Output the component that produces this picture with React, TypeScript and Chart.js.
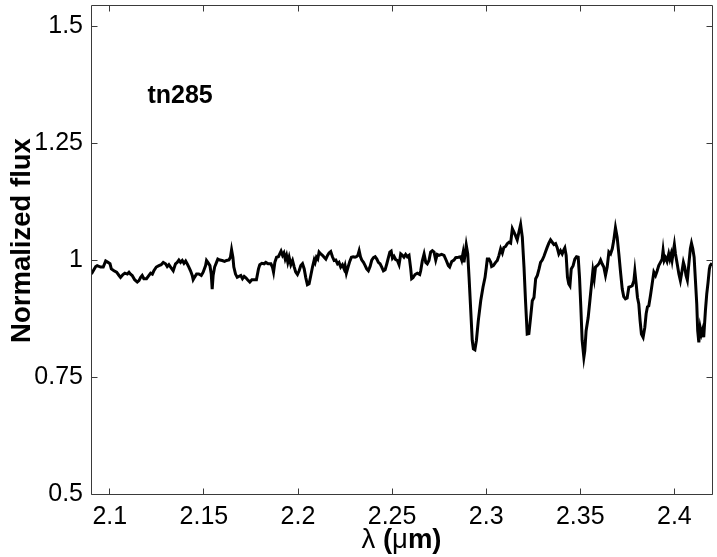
import { useEffect, useRef } from "react";
import { Chart, registerables } from "chart.js";

Chart.register(...registerables);

// ---- data ----
const X_MIN = 2.09;
const X_MAX = 2.42;
const Y_MIN = 0.5;
const Y_MAX = 1.545;
const X_TICKS = [2.1, 2.15, 2.2, 2.25, 2.3, 2.35, 2.4];
const Y_TICKS = [0.5, 0.75, 1, 1.25, 1.5];
const X_TITLE_PARTS: [string, boolean][] = [["λ", false], [" (", true], ["μ", false], ["m)", true]];
const Y_TITLE = "Normalized flux";
const STAR_LABEL = "tn285";
const STAR_LABEL_POS = [2.12, 1.35];

const WAVELENGTH = [
  2.0902, 2.0912, 2.0925, 2.0933, 2.0951, 2.0965, 2.0978, 2.0990, 2.1001, 2.1008,
  2.1022, 2.1036, 2.1049, 2.1057, 2.1070, 2.1080, 2.1093, 2.1102, 2.1110, 2.1119,
  2.1132, 2.1146, 2.1155, 2.1164, 2.1172, 2.1181, 2.1195, 2.1208, 2.1217, 2.1226,
  2.1234, 2.1247, 2.1261, 2.1273, 2.1284, 2.1296, 2.1305, 2.1314, 2.1323, 2.1337,
  2.1349, 2.1358, 2.1367, 2.1376, 2.1385, 2.1394, 2.1403, 2.1411, 2.1420, 2.1429,
  2.1438, 2.1443, 2.1450, 2.1461, 2.1473, 2.1486, 2.1496, 2.1509, 2.1514, 2.1521,
  2.1532, 2.1539, 2.1544, 2.1549, 2.1557, 2.1567, 2.1574, 2.1585, 2.1597, 2.1610,
  2.1620, 2.1633, 2.1641, 2.1647, 2.1654, 2.1659, 2.1668, 2.1677,
  2.1696, 2.1705, 2.1714, 2.1723, 2.1732, 2.1744, 2.1755, 2.1767, 2.1779, 2.1790,
  2.1797, 2.1808, 2.1820, 2.1829, 2.1841, 2.1856, 2.1864, 2.1870, 2.1877, 2.1886,
  2.1896, 2.1903, 2.1910, 2.1918, 2.1925, 2.1932, 2.1939, 2.1946, 2.1953, 2.1962,
  2.1971, 2.1980, 2.1988, 2.1997, 2.2006, 2.2015, 2.2024, 2.2033, 2.2041, 2.2050,
  2.2059, 2.2068, 2.2077, 2.2086, 2.2091, 2.2098, 2.2105, 2.2112, 2.2121, 2.2130,
  2.2139, 2.2148, 2.2157, 2.2165, 2.2174, 2.2183, 2.2192, 2.2201, 2.2210, 2.2218,
  2.2227, 2.2236, 2.2245, 2.2250, 2.2257, 2.2266, 2.2275, 2.2284, 2.2293, 2.2303,
  2.2310, 2.2318, 2.2325, 2.2332, 2.2339, 2.2348, 2.2357, 2.2365, 2.2374, 2.2383,
  2.2392, 2.2401, 2.2410, 2.2419, 2.2427, 2.2436, 2.2445, 2.2454, 2.2463, 2.2472,
  2.2481, 2.2488, 2.2495,
  2.2502, 2.2510, 2.2519, 2.2528, 2.2537, 2.2546, 2.2555, 2.2563, 2.2572, 2.2581,
  2.2590, 2.2599, 2.2604, 2.2611, 2.2622, 2.2634, 2.2647, 2.2652, 2.2661, 2.2670,
  2.2679, 2.2687, 2.2696, 2.2705, 2.2714, 2.2723, 2.2732, 2.2740, 2.2749, 2.2763,
  2.2776, 2.2788, 2.2799, 2.2806, 2.2817, 2.2829, 2.2838, 2.2852, 2.2864, 2.2870,
  2.2877, 2.2882, 2.2887, 2.2894, 2.2902, 2.2909, 2.2918, 2.2926, 2.2932, 2.2940,
  2.2948, 2.2958, 2.2971, 2.2983, 2.2994, 2.3001, 2.3006, 2.3015, 2.3024, 2.3029,
  2.3038, 2.3050, 2.3059, 2.3068, 2.3077, 2.3086, 2.3094, 2.3103, 2.3112, 2.3121,
  2.3130, 2.3139, 2.3147, 2.3156, 2.3165, 2.3174, 2.3183, 2.3192, 2.3201, 2.3209,
  2.3218, 2.3227, 2.3236, 2.3245, 2.3254, 2.3263, 2.3272, 2.3281, 2.3289,
  2.3298, 2.3307, 2.3316, 2.3324, 2.3333, 2.3342, 2.3351, 2.3360, 2.3369, 2.3377,
  2.3386, 2.3395, 2.3404, 2.3413, 2.3418, 2.3425, 2.3432, 2.3439, 2.3445, 2.3452,
  2.3462, 2.3471, 2.3480, 2.3489, 2.3496, 2.3503, 2.3510, 2.3519, 2.3524, 2.3531,
  2.3542, 2.3551, 2.3560, 2.3567, 2.3574, 2.3581, 2.3590, 2.3599, 2.3608, 2.3616,
  2.3625, 2.3634, 2.3643, 2.3652, 2.3661, 2.3670, 2.3678, 2.3687, 2.3696, 2.3705,
  2.3714, 2.3723, 2.3731, 2.3740, 2.3749, 2.3758, 2.3767, 2.3776, 2.3785, 2.3790,
  2.3797, 2.3804, 2.3811, 2.3818, 2.3825, 2.3834, 2.3843, 2.3850, 2.3857, 2.3864,
  2.3873, 2.3882, 2.3891, 2.3900, 2.3908, 2.3917, 2.3926, 2.3935, 2.3940, 2.3946,
  2.3953, 2.3961, 2.3970, 2.3976, 2.3983, 2.3988, 2.3995, 2.4000, 2.4006, 2.4015,
  2.4024, 2.4032, 2.4041, 2.4048, 2.4055, 2.4062, 2.4069, 2.4077, 2.4085, 2.4091,
  2.4098, 2.4105, 2.4112, 2.4119, 2.4124, 2.4130, 2.4137, 2.4144, 2.4151, 2.4156,
  2.4165, 2.4172, 2.4179, 2.4186, 2.4190, 2.4200,
];

const FLUX = [
  0.970, 0.977, 0.986, 0.988, 0.985, 0.985, 0.998, 0.995, 0.992, 0.981,
  0.977, 0.974, 0.967, 0.963, 0.969, 0.972, 0.970, 0.974, 0.970, 0.967,
  0.958, 0.953, 0.956, 0.963, 0.967, 0.960, 0.960, 0.967, 0.972, 0.970,
  0.977, 0.985, 0.988, 0.990, 0.995, 0.992, 0.986, 0.990, 0.985, 0.977,
  0.992, 0.995, 1.000, 0.995, 0.999, 0.993, 0.998, 0.992, 0.985, 0.977,
  0.967, 0.958, 0.963, 0.970, 0.970, 0.967, 0.974, 0.988, 0.999, 0.995,
  0.988, 0.970, 0.938, 0.967, 0.985, 0.995, 1.002, 1.000, 0.999, 0.997,
  0.999, 1.000, 1.006, 1.022, 1.006, 0.985, 0.970, 0.963,
  0.967, 0.960, 0.965, 0.962, 0.958, 0.953, 0.958, 0.958, 0.958, 0.981,
  0.990, 0.993, 0.992, 0.995, 0.992, 0.992, 0.985, 0.974, 0.995, 1.006,
  1.007, 1.013, 1.019, 1.010, 1.015, 1.002, 1.010, 0.995, 1.006, 0.990,
  0.999, 0.985, 0.974, 0.969, 0.977, 0.988, 0.992, 0.981, 0.963, 0.947,
  0.949, 0.967, 0.985, 1.000, 0.995, 1.006, 1.002, 1.017, 1.013, 1.010,
  1.006, 1.002, 1.010, 1.015, 1.018, 1.007, 0.999, 1.000, 0.992, 0.995,
  0.985, 0.990, 0.981, 0.988, 0.972, 0.985, 0.997, 1.006, 1.007, 1.006,
  1.007, 1.010, 1.020, 1.007, 1.000, 0.995, 0.988, 0.981, 0.977, 0.986,
  1.000, 1.005, 1.007, 1.002, 0.995, 0.992, 0.985, 0.977, 0.979, 0.992,
  1.006, 1.017, 1.019,
  1.004, 1.008, 1.001, 0.999, 0.990, 1.013, 1.010, 1.006, 1.012, 1.007,
  1.010, 0.981, 0.960, 0.962, 0.969, 0.972, 0.969, 0.977, 0.999, 1.013,
  0.995, 0.992, 0.999, 1.017, 1.020, 1.017, 1.000, 1.012, 1.010, 1.012,
  1.010, 0.999, 0.988, 0.985, 0.997, 1.000, 1.005, 1.006, 1.007, 1.000,
  1.015, 0.995, 1.010, 1.032, 1.013, 0.963, 0.892, 0.828, 0.810, 0.808,
  0.828, 0.870, 0.913, 0.942, 0.963, 0.985, 1.002, 1.002, 0.995, 0.986,
  0.988, 0.995, 0.999, 1.010, 1.024, 1.015, 1.027, 1.029, 1.035, 1.038,
  1.036, 1.067, 1.060, 1.052, 1.043, 1.060, 1.076, 1.049, 0.985, 0.913,
  0.842, 0.843, 0.877, 0.913, 0.920, 0.960, 0.967, 0.981, 0.995,
  1.000, 1.008, 1.018, 1.027, 1.036, 1.043, 1.038, 1.033, 1.035, 1.027,
  1.013, 1.020, 1.013, 1.022, 1.026, 1.010, 0.963, 0.949, 0.945, 0.981,
  0.988, 1.002, 1.007, 1.006, 0.963, 0.899, 0.828, 0.792, 0.806, 0.849,
  0.877, 0.913, 0.949, 0.977, 0.960, 0.985, 0.988, 0.992, 1.000, 0.992,
  0.985, 0.967, 0.985, 1.017, 1.013, 1.024, 1.042, 1.069, 1.049, 1.013,
  0.974, 0.938, 0.922, 0.917, 0.919, 0.942, 0.943, 0.945, 0.956, 0.976,
  0.949, 0.920, 0.906, 0.870, 0.842, 0.835, 0.856, 0.885, 0.900, 0.902,
  0.924, 0.949, 0.974, 0.967, 0.976, 0.988, 0.995, 1.002, 1.020, 0.999,
  1.005, 0.997, 1.013, 1.002, 1.013, 1.000, 1.020, 1.033, 1.013, 0.992,
  0.970, 0.956, 0.977, 0.995, 0.985, 0.967, 0.957, 0.992, 1.024, 1.036,
  1.024, 1.006, 0.956, 0.906, 0.849, 0.824, 0.856, 0.842, 0.852, 0.835,
  0.892, 0.927, 0.952, 0.981, 0.988, 0.993,
];

const FONT = "'Liberation Sans', Arial, Helvetica, sans-serif";
const TICK_SIZE = 25;
const LABEL_SIZE = 27.5;

const decorPlugin = {
  id: "matlabDecor",
  afterDraw(chart: any) {
    const { ctx, chartArea } = chart;
    const xs = chart.scales.x;
    const ys = chart.scales.y;
    const L = Math.floor(chartArea.left) + 0.5;
    const R = Math.floor(chartArea.right) + 0.5;
    const T = Math.floor(chartArea.top) + 0.5;
    const B = Math.floor(chartArea.bottom) + 0.5;
    ctx.save();
    ctx.strokeStyle = "#3a3a3a";
    ctx.lineWidth = 1;
    ctx.beginPath();
    ctx.rect(L, T, R - L, B - T);
    const tl = 6;
    for (const v of X_TICKS) {
      const px = Math.floor(xs.getPixelForValue(v)) + 0.5;
      ctx.moveTo(px, B);
      ctx.lineTo(px, B - tl);
      ctx.moveTo(px, T);
      ctx.lineTo(px, T + tl);
    }
    for (const v of Y_TICKS) {
      const py = Math.floor(ys.getPixelForValue(v)) + 0.5;
      ctx.moveTo(L, py);
      ctx.lineTo(L + tl, py);
      ctx.moveTo(R, py);
      ctx.lineTo(R - tl, py);
    }
    ctx.stroke();

    // star label
    ctx.fillStyle = "#000";
    ctx.font = `bold ${TICK_SIZE}px ${FONT}`;
    ctx.textAlign = "left";
    ctx.textBaseline = "middle";
    ctx.fillText(
      STAR_LABEL,
      xs.getPixelForValue(STAR_LABEL_POS[0]),
      ys.getPixelForValue(STAR_LABEL_POS[1])
    );

    // x title with mixed weights
    const parts = X_TITLE_PARTS.map(([t, b]) => {
      ctx.font = `${b ? "bold " : ""}${LABEL_SIZE}px ${FONT}`;
      return { t, b, w: ctx.measureText(t).width };
    });
    const total = parts.reduce((s, p) => s + p.w, 0);
    let cx = (chartArea.left + chartArea.right) / 2 - total / 2;
    ctx.textBaseline = "alphabetic";
    for (const p of parts) {
      ctx.font = `${p.b ? "bold " : ""}${LABEL_SIZE}px ${FONT}`;
      ctx.fillText(p.t, cx, 548);
      cx += p.w;
    }

    // y title
    ctx.save();
    ctx.translate(22, (chartArea.top + chartArea.bottom) / 2 - 9);
    ctx.rotate(-Math.PI / 2);
    ctx.font = `bold ${LABEL_SIZE}px ${FONT}`;
    ctx.textAlign = "center";
    ctx.textBaseline = "middle";
    ctx.fillText(Y_TITLE, 0, 0);
    ctx.restore();
    ctx.restore();
  },
};

export default function App() {
  const canvasRef = useRef<HTMLCanvasElement | null>(null);

  useEffect(() => {
    document.body.style.margin = "0";
    const canvas = canvasRef.current;
    if (!canvas) return;
    const points = WAVELENGTH.map((x, i) => ({ x, y: FLUX[i] }));
    const chart = new Chart(canvas, {
      type: "scatter",
      data: {
        datasets: [
          {
            data: points,
            showLine: true,
            borderColor: "#000",
            borderWidth: 3,
            pointRadius: 0,
            pointHoverRadius: 0,
            tension: 0,
            fill: false,
          },
        ],
      },
      options: {
        animation: false,
        responsive: false,
        maintainAspectRatio: false,
        devicePixelRatio: 1,
        events: [],
        layout: { padding: { top: 5, right: 5, left: 0, bottom: 0 } },
        plugins: {
          legend: { display: false },
          tooltip: { enabled: false },
        },
        scales: {
          x: {
            type: "linear",
            min: X_MIN,
            max: X_MAX,
            border: { display: false },
            grid: { display: false, drawTicks: false },
            afterBuildTicks: (scale: any) => {
              scale.ticks = X_TICKS.map((value) => ({ value }));
            },
            afterFit: (scale: any) => {
              scale.height = 63;
              scale.paddingLeft = 0;
              scale.paddingRight = 0;
            },
            ticks: {
              padding: 8,
              maxRotation: 0,
              autoSkip: false,
              color: "#000",
              font: { family: FONT, size: TICK_SIZE },
              callback: (v: any) => String(v),
            },
          },
          y: {
            type: "linear",
            min: Y_MIN,
            max: Y_MAX,
            border: { display: false },
            grid: { display: false, drawTicks: false },
            afterBuildTicks: (scale: any) => {
              scale.ticks = Y_TICKS.map((value) => ({ value }));
            },
            afterFit: (scale: any) => {
              scale.width = 91;
              scale.paddingTop = 0;
              scale.paddingBottom = 0;
            },
            ticks: {
              padding: 8,
              autoSkip: false,
              color: "#000",
              font: { family: FONT, size: TICK_SIZE },
              callback: (v: any) => String(v),
            },
          },
        },
      },
      plugins: [decorPlugin],
    });
    return () => chart.destroy();
  }, []);

  return (
    <div style={{ position: "fixed", left: 0, top: 0, width: 717, height: 557, background: "#fff" }}>
      <canvas ref={canvasRef} width={717} height={557} style={{ display: "block" }} />
    </div>
  );
}
